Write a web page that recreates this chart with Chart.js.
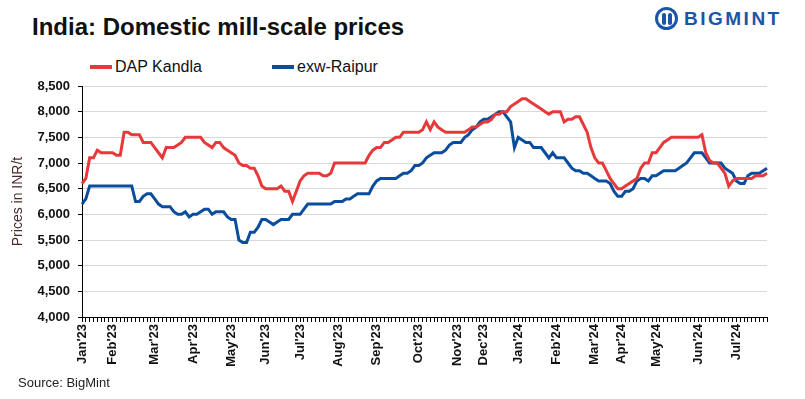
<!DOCTYPE html>
<html>
<head>
<meta charset="utf-8">
<script src="https://cdn.jsdelivr.net/npm/chart.js@4"></script>
<style>
  html, body { margin: 0; padding: 0; background: #fff; }
  body { width: 805px; height: 399px; position: relative; overflow: hidden; font-family: "Liberation Sans", Arial, sans-serif; }
  #title { position: absolute; left: 32px; top: 13px; font-size: 24px; font-weight: bold; color: #111; }
  #logo { position: absolute; left: 655px; top: 7px; display: flex; align-items: center; color: #1a56a8; }
  #logo .icon { width: 23px; height: 23px; border: 3px solid #1a56a8; border-radius: 50%; box-sizing: border-box; position: relative; margin-right: 6px; }
  #logo .icon::before { content: ""; position: absolute; left: 4px; top: 3px; width: 4px; height: 12px; background: #1a56a8; border-radius: 2px; }
  #logo .icon::after { content: ""; position: absolute; left: 10px; top: 3px; width: 4px; height: 12px; background: #1a56a8; border-radius: 2px; }
  #logo .text { font-size: 19px; font-weight: bold; letter-spacing: 2.5px; }
  .legend { position: absolute; top: 58px; font-size: 16px; color: #111; display: flex; align-items: center; }
  .legend .swatch { width: 22px; height: 4px; margin-right: 3px; }
  #source { position: absolute; left: 18px; top: 375px; font-size: 13px; color: #222; }
  #chart-box { position: absolute; left: 0; top: 0; width: 805px; height: 399px; }
</style>
</head>
<body>
<div id="title">India: Domestic mill-scale prices</div>
<div id="logo"><div class="icon"></div><div class="text">BIGMINT</div></div>
<div class="legend" style="left: 90px;"><div class="swatch" style="background:#e8393a"></div>DAP Kandla</div>
<div class="legend" style="left: 272px;"><div class="swatch" style="background:#0a4d9c"></div>exw-Raipur</div>
<div id="chart-box"><canvas id="chart-canvas" width="805" height="399"></canvas></div>
<div id="source">Source: BigMint</div>
<script>
// month names and how many price points fall in each month
const monthLabels = ["Jan'23", "Feb'23", "Mar'23", "Apr'23", "May'23", "Jun'23", "Jul'23", "Aug'23", "Sep'23", "Oct'23", "Nov'23", "Dec'23",
  "Jan'24", "Feb'24", "Mar'24", "Apr'24", "May'24", "Jun'24", "Jul'24"];
const monthPoints = [8, 11, 10, 10, 9, 9, 10, 10, 11, 10, 7, 9, 10, 10, 7, 9, 11, 10, 9];

const dapKandla = [
  6600, 6700, 7100, 7100, 7250, 7200, 7200, 7200, 7200, 7150,
  7150, 7600, 7600, 7550, 7550, 7550, 7400, 7400, 7400, 7300,
  7200, 7100, 7300, 7300, 7300, 7350, 7400, 7500, 7500, 7500,
  7500, 7500, 7400, 7350, 7300, 7400, 7400, 7300, 7250, 7200,
  7150, 7000, 6950, 6950, 6900, 6900, 6750, 6550, 6500, 6500,
  6500, 6500, 6550, 6450, 6450, 6250, 6450, 6650, 6750, 6800,
  6800, 6800, 6800, 6750, 6750, 6800, 7000, 7000, 7000, 7000,
  7000, 7000, 7000, 7000, 7000, 7150, 7250, 7300, 7300, 7400,
  7400, 7450, 7500, 7500, 7600, 7600, 7600, 7600, 7600, 7650,
  7800, 7650, 7800, 7700, 7650, 7600, 7600, 7600, 7600, 7600,
  7600, 7650, 7700, 7700, 7750, 7800, 7800, 7850, 7950, 7950,
  8000, 8000, 8100, 8150, 8200, 8250, 8250, 8200, 8150, 8100,
  8050, 8000, 7950, 8000, 8000, 8000, 7800, 7850, 7850, 7900,
  7900, 7750, 7600, 7300, 7100, 7000, 7000, 6850, 6700, 6600,
  6500, 6500, 6550, 6600, 6650, 6700, 6900, 7000, 7000, 7200,
  7200, 7300, 7400, 7450, 7500, 7500, 7500, 7500, 7500, 7500,
  7500, 7500, 7550, 7200, 7050, 7000, 7000, 6900, 6800, 6550,
  6650, 6700, 6700, 6700, 6700, 6700, 6750, 6750, 6750, 6800
];

const exwRaipur = [
  6200, 6300, 6550, 6550, 6550, 6550, 6550, 6550, 6550, 6550,
  6550, 6550, 6550, 6550, 6250, 6250, 6350, 6400, 6400, 6300,
  6200, 6150, 6150, 6150, 6050, 6000, 6000, 6050, 5950, 6000,
  6000, 6050, 6100, 6100, 6000, 6050, 6050, 6050, 5950, 5900,
  5900, 5500, 5450, 5450, 5650, 5650, 5750, 5900, 5900, 5850,
  5800, 5850, 5900, 5900, 5900, 6000, 6000, 6000, 6100, 6200,
  6200, 6200, 6200, 6200, 6200, 6200, 6250, 6250, 6250, 6300,
  6300, 6350, 6400, 6400, 6400, 6400, 6550, 6650, 6700, 6700,
  6700, 6700, 6700, 6750, 6800, 6800, 6850, 6950, 6950, 7000,
  7100, 7150, 7200, 7200, 7200, 7250, 7350, 7400, 7400, 7400,
  7500, 7550, 7650, 7700, 7800, 7850, 7850, 7900, 7950, 8000,
  8000, 7900, 7800, 7300, 7500, 7450, 7400, 7400, 7300, 7300,
  7300, 7200, 7100, 7200, 7100, 7100, 7100, 7000, 6900, 6850,
  6850, 6800, 6800, 6750, 6700, 6650, 6650, 6650, 6600, 6450,
  6350, 6350, 6450, 6450, 6500, 6650, 6700, 6700, 6650, 6750,
  6750, 6800, 6850, 6850, 6850, 6850, 6900, 6950, 7000, 7100,
  7200, 7200, 7200, 7100, 7000, 7000, 7000, 7000, 6900, 6850,
  6800, 6650, 6600, 6600, 6750, 6800, 6800, 6800, 6850, 6900
];

// one category per price point, month name only on the first point of the month
const categories = [];
monthLabels.forEach((label, m) => {
  for (let i = 0; i < monthPoints[m]; i++) {
    categories.push(i === 0 ? label : "");
  }
});

const tickFont = { family: "'Liberation Sans', Arial, sans-serif", size: 13, weight: "bold" };

new Chart(document.getElementById("chart-canvas"), {
  type: "line",
  data: {
    labels: categories,
    datasets: [
      {
        label: "DAP Kandla",
        data: dapKandla,
        borderColor: "#e8393a",
        borderWidth: 3,
        pointRadius: 0,
        tension: 0,
      },
      {
        label: "exw-Raipur",
        data: exwRaipur,
        borderColor: "#0a4d9c",
        borderWidth: 3,
        pointRadius: 0,
        tension: 0,
      },
    ],
  },
  options: {
    responsive: false,
    animation: false,
    layout: { padding: { top: 86, right: 38, left: 0, bottom: 0 } },
    plugins: { legend: { display: false }, tooltip: { enabled: false } },
    scales: {
      x: {
        type: "category",
        offset: false,
        border: { color: "#000", width: 1 },
        grid: { display: true, drawOnChartArea: false, drawTicks: true, tickLength: 5, color: "#000" },
        ticks: {
          autoSkip: false,
          maxRotation: 90,
          minRotation: 90,
          padding: 2,
          color: "#111",
          font: tickFont,
          callback: (value, index) => categories[index],
        },
        afterFit: (scale) => { scale.height = 82; },
      },
      y: {
        min: 4000,
        max: 8500,
        border: { color: "#000", width: 1 },
        grid: { color: "#d9d9d9", tickColor: "#000", tickLength: 4 },
        ticks: {
          stepSize: 500,
          padding: 8,
          color: "#111",
          font: tickFont,
          callback: (value) => value.toLocaleString("en-US"),
        },
        title: {
          display: true,
          text: "Prices in INR/t",
          color: "#4a2b2b",
          padding: { top: 10, bottom: 0 },
          font: { family: "'Liberation Sans', Arial, sans-serif", size: 14 },
        },
        afterFit: (scale) => { scale.width = 82; },
      },
    },
  },
});
</script>
</body>
</html>
